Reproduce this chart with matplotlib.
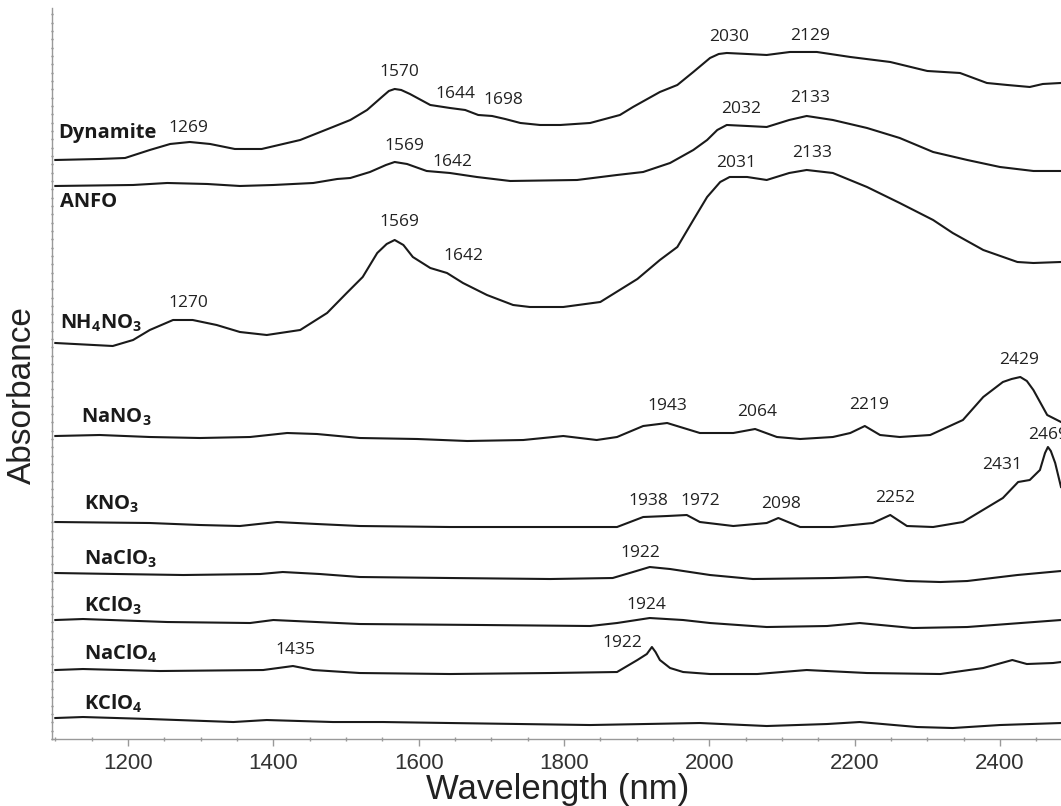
import matplotlib
matplotlib.use('Agg')
import matplotlib.pyplot as plt
from matplotlib.ticker import MultipleLocator, NullFormatter

# Espectros NIR (comprimento de onda em nm, absorbância com deslocamento, u.a.)
dyn_nm = [1100, 1161, 1196, 1230, 1258, 1285, 1313, 1347, 1384, 1437, 1482, 1506, 1529, 1551,
          1559, 1567, 1576, 1588, 1616, 1643, 1664, 1682, 1701, 1719, 1740, 1767, 1795, 1836,
          1877, 1895, 1932, 1956, 1978, 2001, 2013, 2024, 2052, 2079, 2111, 2148, 2194, 2249,
          2300, 2345, 2382, 2410, 2441, 2459, 2484]
dyn_abs = [5.79, 5.80, 5.81, 5.89, 5.95, 5.97, 5.95, 5.90, 5.90, 5.99, 6.12, 6.19, 6.29, 6.43,
           6.48, 6.50, 6.49, 6.45, 6.34, 6.31, 6.29, 6.24, 6.23, 6.20, 6.16, 6.14, 6.14, 6.16,
           6.24, 6.32, 6.47, 6.54, 6.67, 6.81, 6.85, 6.86, 6.85, 6.84, 6.87, 6.87, 6.82, 6.77,
           6.68, 6.66, 6.56, 6.54, 6.52, 6.55, 6.56]

anfo_nm = [1100, 1207, 1254, 1309, 1354, 1400, 1455, 1488, 1506, 1533, 1555, 1567, 1584, 1611,
           1643, 1680, 1726, 1818, 1873, 1909, 1946, 1978, 1997, 2011, 2024, 2052, 2079, 2110,
           2134, 2170, 2217, 2262, 2308, 2355, 2400, 2446, 2484]
anfo_abs = [5.53, 5.54, 5.56, 5.55, 5.53, 5.54, 5.56, 5.60, 5.61, 5.67, 5.74, 5.77, 5.75, 5.68,
            5.66, 5.62, 5.58, 5.59, 5.64, 5.67, 5.76, 5.89, 5.99, 6.09, 6.14, 6.13, 6.12, 6.19,
            6.23, 6.19, 6.11, 6.01, 5.87, 5.79, 5.72, 5.68, 5.68]

an_nm = [1100, 1179, 1207, 1230, 1262, 1289, 1322, 1354, 1391, 1437, 1474, 1501, 1523, 1543,
         1556, 1567, 1579, 1592, 1616, 1639, 1661, 1694, 1730, 1753, 1799, 1850, 1901, 1932,
         1956, 1978, 1997, 2015, 2028, 2052, 2079, 2110, 2134, 2170, 2217, 2262, 2308, 2335,
         2377, 2424, 2446, 2484]
an_abs = [3.96, 3.93, 3.99, 4.09, 4.19, 4.19, 4.14, 4.07, 4.04, 4.09, 4.26, 4.46, 4.62, 4.86,
          4.95, 4.99, 4.94, 4.82, 4.71, 4.66, 4.56, 4.44, 4.34, 4.32, 4.32, 4.37, 4.60, 4.79,
          4.92, 5.19, 5.42, 5.57, 5.62, 5.62, 5.59, 5.66, 5.69, 5.66, 5.52, 5.36, 5.19, 5.06,
          4.89, 4.77, 4.76, 4.77]

nano3_nm = [1100, 1161, 1230, 1299, 1368, 1419, 1460, 1519, 1598, 1667, 1744, 1799, 1845, 1873,
            1909, 1942, 1960, 1987, 2033, 2063, 2093, 2125, 2170, 2194, 2214, 2235, 2262, 2304,
            2349, 2377, 2404, 2416, 2428, 2437, 2446, 2465, 2484]
nano3_abs = [3.03, 3.04, 3.02, 3.01, 3.02, 3.06, 3.05, 3.01, 3.00, 2.98, 2.99, 3.03, 2.99, 3.02,
             3.13, 3.16, 3.12, 3.06, 3.06, 3.10, 3.02, 3.00, 3.02, 3.06, 3.13, 3.04, 3.02, 3.04,
             3.19, 3.42, 3.57, 3.60, 3.62, 3.58, 3.49, 3.24, 3.17]

kno3_nm = [1100, 1230, 1299, 1354, 1405, 1460, 1519, 1643, 1781, 1873, 1909, 1942, 1969, 1987,
           2033, 2079, 2095, 2125, 2170, 2225, 2249, 2272, 2308, 2349, 2404, 2425, 2441, 2455,
           2462, 2466, 2470, 2476, 2484]
kno3_abs = [2.17, 2.16, 2.14, 2.13, 2.17, 2.15, 2.13, 2.12, 2.12, 2.12, 2.22, 2.23, 2.24, 2.17,
            2.13, 2.16, 2.21, 2.12, 2.12, 2.16, 2.24, 2.13, 2.12, 2.17, 2.41, 2.57, 2.59, 2.69,
            2.86, 2.92, 2.88, 2.76, 2.52]

naclo3_nm = [1100, 1185, 1276, 1382, 1413, 1464, 1519, 1643, 1781, 1867, 1895, 1918, 1946, 2001,
             2060, 2170, 2217, 2272, 2318, 2355, 2424, 2484]
naclo3_abs = [1.66, 1.65, 1.64, 1.65, 1.67, 1.65, 1.62, 1.61, 1.60, 1.61, 1.67, 1.72, 1.70, 1.64,
              1.60, 1.61, 1.62, 1.58, 1.57, 1.58, 1.64, 1.68]

kclo3_nm = [1100, 1138, 1254, 1368, 1400, 1519, 1689, 1836, 1873, 1918, 1964, 2001, 2079, 2162,
            2207, 2280, 2355, 2484]
kclo3_abs = [1.19, 1.20, 1.17, 1.16, 1.19, 1.15, 1.14, 1.13, 1.16, 1.21, 1.19, 1.16, 1.12, 1.13,
             1.16, 1.11, 1.12, 1.19]

naclo4_nm = [1100, 1138, 1244, 1386, 1427, 1455, 1519, 1643, 1781, 1873, 1901, 1914, 1921, 1926,
             1932, 1946, 1964, 2001, 2066, 2134, 2217, 2318, 2377, 2417, 2437, 2473, 2484]
naclo4_abs = [0.69, 0.70, 0.68, 0.69, 0.73, 0.69, 0.66, 0.65, 0.66, 0.67, 0.79, 0.85, 0.92, 0.87,
              0.79, 0.71, 0.67, 0.65, 0.65, 0.69, 0.66, 0.65, 0.71, 0.79, 0.75, 0.76, 0.77]

kclo4_nm = [1100, 1138, 1230, 1345, 1391, 1482, 1551, 1643, 1836, 1987, 2079, 2162, 2207, 2286,
            2335, 2400, 2484]
kclo4_abs = [0.21, 0.22, 0.20, 0.17, 0.19, 0.17, 0.17, 0.16, 0.14, 0.16, 0.13, 0.15, 0.17, 0.12,
             0.11, 0.14, 0.16]

# Nomes das amostras: (texto, x da esquerda em nm, linha de base)
sample_names = ['Dynamite', 'ANFO', r'NH$_\mathbf{4}$NO$_\mathbf{3}$', r'NaNO$_\mathbf{3}$',
                r'KNO$_\mathbf{3}$', r'NaClO$_\mathbf{3}$', r'KClO$_\mathbf{3}$',
                r'NaClO$_\mathbf{4}$', r'KClO$_\mathbf{4}$']
name_x = [1104, 1106, 1106, 1135, 1139, 1139, 1139, 1139, 1139]
name_y = [6.01, 5.32, 4.10, 3.16, 2.29, 1.74, 1.27, 0.79, 0.29]

# Picos anotados
peak_text = ['1269', '1570', '1644', '1698', '2030', '2129',
             '1569', '1642', '2032', '2133',
             '2031', '2133', '1569', '1642', '1270',
             '1943', '2064', '2219', '2429',
             '2469', '2431', '1938', '1972', '2098', '2252',
             '1922', '1924', '1922', '1435']
peak_x = [1283, 1574, 1651, 1717, 2027, 2139,
          1580, 1646, 2044, 2139,
          2037, 2141, 1574, 1662, 1283,
          1942, 2066, 2220, 2426,
          2466, 2403, 1916, 1988, 2099, 2256,
          1905, 1914, 1881, 1431]
peak_y = [6.11, 6.67, 6.45, 6.39, 7.02, 7.03,
          5.93, 5.77, 6.30, 6.41,
          5.76, 5.86, 5.17, 4.83, 4.36,
          3.33, 3.27, 3.34, 3.79,
          3.04, 2.74, 2.38, 2.38, 2.35, 2.41,
          1.86, 1.34, 0.96, 0.89]

spectra = [(dyn_nm, dyn_abs), (anfo_nm, anfo_abs), (an_nm, an_abs), (nano3_nm, nano3_abs),
           (kno3_nm, kno3_abs), (naclo3_nm, naclo3_abs), (kclo3_nm, kclo3_abs),
           (naclo4_nm, naclo4_abs), (kclo4_nm, kclo4_abs)]

plt.rcParams['mathtext.fontset'] = 'custom'
plt.rcParams['mathtext.rm'] = 'Open Sans'
plt.rcParams['mathtext.bf'] = 'Open Sans:bold'

fig = plt.figure(figsize=(10.61, 8.06), dpi=100)
ax = fig.add_axes([0.049, 0.0831, 0.951, 0.907])

for x, y in spectra:
    ax.plot(x, y, color='#1a1a1a', linewidth=1.5, solid_joinstyle='round')

for name, x, y in zip(sample_names, name_x, name_y):
    ax.text(x, y, name, fontsize=14.5, fontweight='bold', family='Open Sans',
            color='#1a1a1a', ha='left', va='baseline')

# o rótulo 2469 fica cortado na borda direita, como no original
for t, x, y in zip(peak_text, peak_x, peak_y):
    ax.text(x, y, t, fontsize=12.5, family='Open Sans', color='#222222',
            ha='center', va='center')

ax.set_xlim(1095.4, 2484)
ax.set_ylim(0, 7.31)

# Eixos: só esquerda e baixo, cinza
for side in ['top', 'right']:
    ax.spines[side].set_visible(False)
for side in ['left', 'bottom']:
    ax.spines[side].set_color('#999999')
    ax.spines[side].set_linewidth(1.0)

ax.xaxis.set_major_locator(MultipleLocator(200))
ax.xaxis.set_minor_locator(MultipleLocator(50))
ax.tick_params(axis='x', which='major', length=5, width=1, color='#999999',
               labelsize=16, labelcolor='#333333', pad=5)
ax.tick_params(axis='x', which='minor', length=3, width=1, color='#999999',
               direction='inout')
for lbl in ax.get_xticklabels():
    lbl.set_family('Liberation Sans')

ax.yaxis.set_major_locator(MultipleLocator(0.0833))
ax.yaxis.set_major_formatter(NullFormatter())
ax.tick_params(axis='y', which='major', length=2, width=1, color='#777777',
               direction='inout')

fig.text(22 / 1061, 1 - 395 / 806, 'Absorbance', rotation=90, ha='center', va='center',
         fontsize=24, family='Liberation Sans', color='#222222')
fig.text(558 / 1061, 1 - 790 / 806, 'Wavelength (nm)', ha='center', va='center',
         fontsize=25, family='Liberation Sans', color='#222222')

fig.savefig('out.png', dpi=100)
